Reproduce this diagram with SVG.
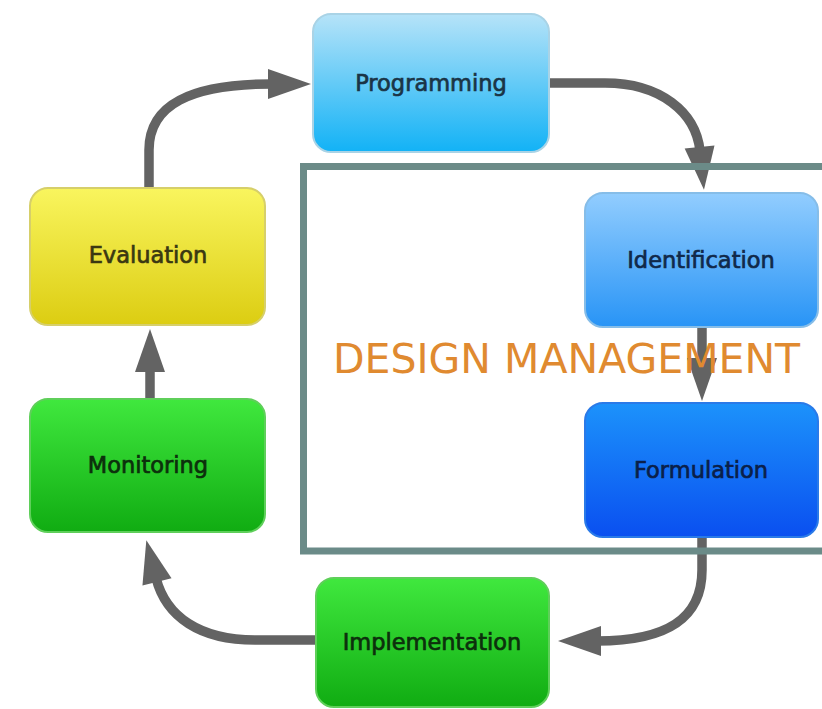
<svg xmlns="http://www.w3.org/2000/svg" width="822" height="709" viewBox="0 0 822 709">
<defs>
<linearGradient id="gProg" x1="0" y1="0" x2="0" y2="1"><stop offset="0" stop-color="#b6e3f8"/><stop offset="1" stop-color="#12b2f6"/></linearGradient>
<linearGradient id="gIdent" x1="0" y1="0" x2="0" y2="1"><stop offset="0" stop-color="#92cdfe"/><stop offset="1" stop-color="#2894f6"/></linearGradient>
<linearGradient id="gForm" x1="0" y1="0" x2="0" y2="1"><stop offset="0" stop-color="#1c92fb"/><stop offset="1" stop-color="#0a4ff0"/></linearGradient>
<linearGradient id="gEval" x1="0" y1="0" x2="0" y2="1"><stop offset="0" stop-color="#f9f55e"/><stop offset="1" stop-color="#dccd12"/></linearGradient>
<linearGradient id="gGreen" x1="0" y1="0" x2="0" y2="1"><stop offset="0" stop-color="#40e83e"/><stop offset="1" stop-color="#10ac12"/></linearGradient>
<marker id="arr" markerUnits="userSpaceOnUse" markerWidth="44" markerHeight="32" refX="4" refY="15" orient="auto" overflow="visible">
<path d="M0,0 L43,15 L0,30 z" fill="#636363"/>
</marker>
</defs>
<style>
.conn{fill:none;stroke:#636363;stroke-width:9.5;marker-end:url(#arr)}
.box{stroke-width:2}
.lbl{font-family:"DejaVu Sans",Verdana,sans-serif;font-size:22.5px;text-anchor:middle;stroke-width:0.7px}
.frame{fill:none;stroke:#6b8b88;stroke-width:7}
.dm{font-family:"DejaVu Sans",Verdana,sans-serif;font-size:41px;fill:#e08a30}
</style>
<rect width="822" height="709" fill="#ffffff"/>
<g id="connectors">
<path class="conn" d="M149,188 L149,150 C149,105 190,84 272,84"/>
<path class="conn" d="M549,83 L605,83 C660,83 696,112 700,151"/>
<path class="conn" d="M702,327 L702,362"/>
<path class="conn" d="M702,537 L702,570 C702,620 665,641 597,641"/>
<path class="conn" d="M316,640 L255,640 C200,640 166,617 156,578"/>
<path class="conn" d="M150,399 L150,368"/>
</g>
<g id="design-management">
<rect class="frame" x="303.5" y="166.5" width="530" height="384.5"/>
</g>
<g id="programming">
<rect class="box" x="313" y="14" width="236" height="138" rx="18" fill="url(#gProg)" stroke="#a9d3e6"/>
<text class="lbl" x="431" y="91" fill="#1a3446" stroke="#1a3446">Programming</text>
</g>
<g id="identification">
<rect class="box" x="585" y="193" width="233" height="134" rx="18" fill="url(#gIdent)" stroke="#86bde8"/>
<text class="lbl" x="701" y="268" fill="#10294a" stroke="#10294a">Identification</text>
</g>
<g id="formulation">
<rect class="box" x="585" y="403" width="233" height="134" rx="18" fill="url(#gForm)" stroke="#2a7ae8"/>
<text class="lbl" x="701" y="478" fill="#0a1f4a" stroke="#0a1f4a">Formulation</text>
</g>
<g id="evaluation">
<rect class="box" x="30" y="188" width="235" height="137" rx="18" fill="url(#gEval)" stroke="#d6cf6a"/>
<text class="lbl" x="148" y="263" fill="#3a3812" stroke="#3a3812">Evaluation</text>
</g>
<g id="monitoring">
<rect class="box" x="30" y="399" width="235" height="133" rx="18" fill="url(#gGreen)" stroke="#5fcf5a"/>
<text class="lbl" x="148" y="473" fill="#0c300c" stroke="#0c300c">Monitoring</text>
</g>
<g id="implementation">
<rect class="box" x="316" y="578" width="233" height="129" rx="18" fill="url(#gGreen)" stroke="#5fcf5a"/>
<text class="lbl" x="432" y="650" fill="#0c300c" stroke="#0c300c">Implementation</text>
</g>
<text class="dm" x="333" y="373">DESIGN MANAGEMENT</text>
</svg>
